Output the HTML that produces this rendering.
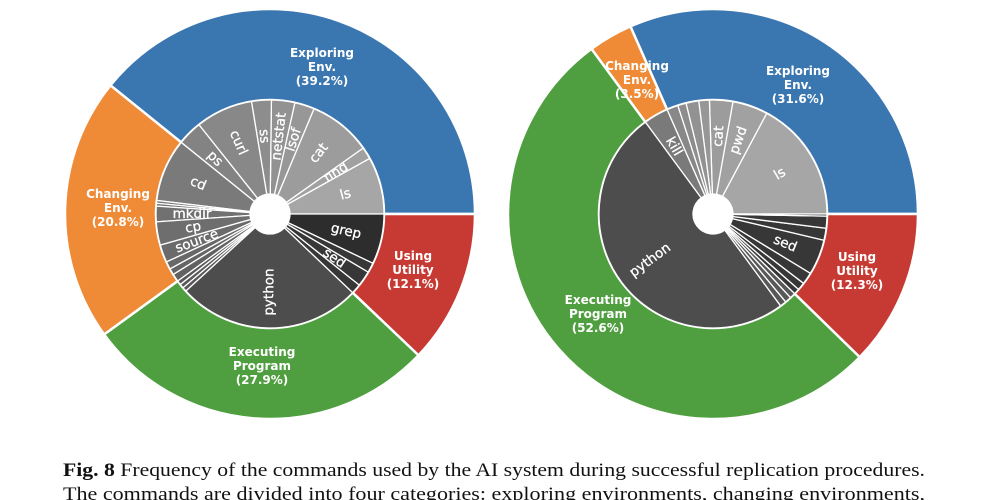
<!DOCTYPE html>
<html><head><meta charset="utf-8"><style>
body{margin:0;background:#fff;width:1000px;height:500px;overflow:hidden}
svg{display:block}
</style></head><body>
<svg id="chart" width="1000" height="500" viewBox="0 0 1000 500" xmlns="http://www.w3.org/2000/svg">
<g id="left"></g>
<g id="right"></g>
<text x="63" y="476" font-family="Liberation Serif, serif" font-size="19" fill="#111" textLength="862" lengthAdjust="spacingAndGlyphs"><tspan font-weight="bold">Fig. 8</tspan>  Frequency of the commands used by the AI system during successful replication procedures.</text>
<text x="63" y="500" font-family="Liberation Serif, serif" font-size="19" fill="#111" textLength="862" lengthAdjust="spacingAndGlyphs">The commands are divided into four categories: exploring environments, changing environments,</text>
</svg>
<script>
// ---- data (percent of total) ----
const catNames = ["Exploring\nEnv.", "Changing\nEnv.", "Executing\nProgram", "Using\nUtility"];
const leftCatValues = [39.2, 20.8, 27.9, 12.1];
const rightCatValues = [31.6, 3.5, 52.6, 12.3];
const leftCmdNames = [["ls","find","cat","lsof","netstat","ss","curl","ps"],["cd","","","mkdir","cp","source","","",""],["","","","python"],["","sed","","grep"]];
const leftCmdValues = [[8.1,1.7,8.9,2.8,3.3,2.8,8.1,3.5],[8.9,0.4,0.4,2.2,3.3,2.5,1.1,0.9,1.1],[0.6,0.6,0.6,26.1],[1.4,2.2,1.4,7.1]];
const rightCmdNames = [["ls","pwd","cat","","","",""],["kill"],["python","","",""],["","","","sed","","",""]];
const rightCmdValues = [[17.2,5.0,3.3,1.5,1.8,1.2,1.6],[3.5],[50.0,0.9,0.9,0.8],[0.8,1.1,1.7,5.0,1.7,1.7,0.3]];

const catColors = ["#3a76b0","#ef8a36","#4f9e3f","#c63a33"];
const NS = "http://www.w3.org/2000/svg";
const R_OUT = 205, R_IN = 114, R_HOLE = 20, R_LAB = 78;

function angle(p){ return p*3.6; }
function pt(cx,cy,r,a){ const t=a*Math.PI/180; return [cx+r*Math.cos(t), cy-r*Math.sin(t)]; }
function wedge(cx,cy,r0,r1,a0,a1){
  const large=(a1-a0)>180?1:0;
  const p0=pt(cx,cy,r1,a0),p1=pt(cx,cy,r1,a1),p2=pt(cx,cy,r0,a1),p3=pt(cx,cy,r0,a0);
  return `M${p0[0]},${p0[1]} A${r1},${r1} 0 ${large} 0 ${p1[0]},${p1[1]} L${p2[0]},${p2[1]} A${r0},${r0} 0 ${large} 1 ${p3[0]},${p3[1]} Z`;
}
function grayFor(ci,j,v){
  if(ci===0) return 166-j*5;
  if(ci===1) return 122-j*3;
  if(ci===2) return v>10?77:88;
  return v>6?45:55;
}
function draw(gid,cx,cy,catVals,cmdNames,cmdVals,outerLabelPos){
  const g=document.getElementById(gid);
  let a=0;
  catVals.forEach((v,i)=>{
    const a0=angle(a), a1=angle(a+v);
    const p=document.createElementNS(NS,"path");
    
    
    p.setAttribute("d",wedge(cx,cy,R_IN,R_OUT,a0,a1));
    p.setAttribute("fill",catColors[i]);p.setAttribute("stroke","#fff");p.setAttribute("stroke-width","2.5");
    g.appendChild(p);
    a+=v;
  });
  let b=0;
  cmdVals.forEach((arr,ci)=>{
    arr.forEach((v,j)=>{
      const a0=angle(b), a1=angle(b+v), mid=(a0+a1)/2;
      const gray=grayFor(ci,j,v);
      const p=document.createElementNS(NS,"path");
      
      
      p.setAttribute("d",wedge(cx,cy,R_HOLE,R_IN,a0,a1));
      p.setAttribute("fill",`rgb(${gray},${gray},${gray})`);p.setAttribute("stroke","#fff");p.setAttribute("stroke-width","1.3");
      g.appendChild(p);
      const name=cmdNames[ci][j];
      if(name){
        const q=pt(cx,cy,R_LAB,mid);
        let rot=mid; if(rot>90&&rot<270) rot-=180; else if(rot>=270) rot-=360;
        const t=document.createElementNS(NS,"text");
        
        
        t.setAttribute("x",q[0]);t.setAttribute("y",q[1]);
        t.setAttribute("transform",`rotate(${-rot},${q[0]},${q[1]})`);
        t.setAttribute("text-anchor","middle");t.setAttribute("dominant-baseline","central");
        t.setAttribute("font-family","DejaVu Sans, sans-serif");t.setAttribute("font-size","13.5");t.setAttribute("fill","#fff");
        t.setAttribute("stroke","#fff");t.setAttribute("stroke-width","0.3");
        t.textContent=name; g.appendChild(t);
      }
      b+=v;
    });
  });
  const h=document.createElementNS(NS,"circle");
  
  
  h.setAttribute("cx",cx);h.setAttribute("cy",cy);h.setAttribute("r",R_HOLE);h.setAttribute("fill","#fff");
  g.appendChild(h);
  catVals.forEach((v,i)=>{
    const pos=outerLabelPos[i];
    const lines=catNames[i].split("\n").concat([`(${v.toFixed(1)}%)`]);
    const t=document.createElementNS(NS,"text");
    
    
    t.setAttribute("text-anchor","middle");t.setAttribute("font-family","DejaVu Sans, sans-serif");
    t.setAttribute("font-weight","bold");t.setAttribute("font-size","12");t.setAttribute("fill","#fff");
    lines.forEach((s,k)=>{const ts=document.createElementNS(NS,"tspan");ts.setAttribute("x",pos[0]);ts.setAttribute("y",pos[1]+k*14);ts.textContent=s;t.appendChild(ts);});
    g.appendChild(t);
  });
}
draw("left",270,214,leftCatValues,leftCmdNames,leftCmdValues,[[322,57],[118,198],[262,356],[413,260]]);
draw("right",713,214,rightCatValues,rightCmdNames,rightCmdValues,[[798,75],[637,70],[598,304],[857,261]]);
</script>
</body></html>
